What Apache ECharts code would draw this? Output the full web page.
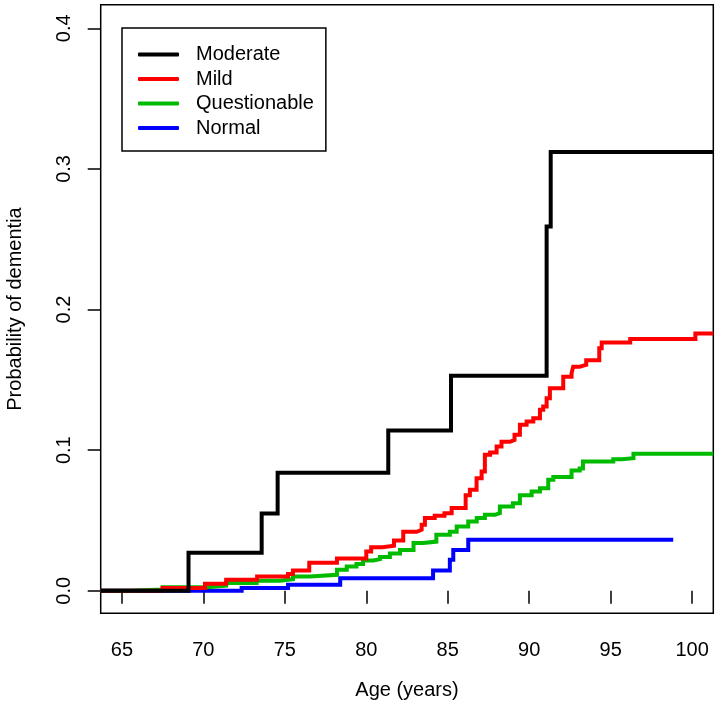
<!DOCTYPE html>
<html>
<head>
<meta charset="utf-8">
<script src="https://cdn.jsdelivr.net/npm/echarts@6/dist/echarts.min.js"></script>
<style>html,body{margin:0;padding:0;background:#fff}#c{width:720px;height:706px}</style>
</head>
<body>
<div id="c"></div>
<script>
// ---- data ----
const seriesNames = ['Moderate', 'Mild', 'Questionable', 'Normal'];

const moderateAge  = [63.7, 69.09, 73.58, 74.56, 81.35, 85.2, 91.07, 91.32, 101.3];
const moderateProb = [0, 0.027, 0.055, 0.084, 0.114, 0.153, 0.259, 0.312, 0.312];

const mildAge  = [63.7, 67.5, 70.1, 71.4, 73.3, 75.2, 75.5, 76.5, 78.2, 80.0, 80.3, 81.0, 81.7, 82.27, 83.1, 83.4, 83.6, 84.2, 84.8, 85.24, 86.1, 86.36, 86.77, 87.08, 87.28, 87.6, 88.0, 88.3, 88.82, 89.1, 89.43, 89.84, 90.25, 90.66, 90.86, 91.07, 91.27, 92.09, 92.6, 92.7, 93.1, 93.5, 94.3, 94.45, 96.2, 100.2, 101.3];
const mildProb = [0, 0.002, 0.005, 0.0078, 0.0102, 0.012, 0.0145, 0.02, 0.023, 0.028, 0.031, 0.032, 0.0358, 0.042, 0.0434, 0.047, 0.0517, 0.0533, 0.0552, 0.0588, 0.068, 0.0718, 0.080, 0.0848, 0.0967, 0.0983, 0.1026, 0.106, 0.1073, 0.111, 0.118, 0.1204, 0.1227, 0.1287, 0.131, 0.137, 0.144, 0.1523, 0.1547, 0.1594, 0.1607, 0.164, 0.1725, 0.1765, 0.179, 0.183, 0.183];

const questionableAge  = [63.7, 65.5, 67.5, 70.2, 71.4, 73.27, 74.7, 75.5, 76.54, 78.2, 78.8, 79.4, 79.8, 80.43, 80.84, 81.45, 82.07, 82.9, 83.5, 84.3, 85.13, 85.55, 86.26, 86.78, 87.28, 87.9, 88.2, 89.0, 89.43, 90.15, 90.66, 91.17, 91.48, 92.6, 93.1, 93.3, 95.16, 95.67, 96.4, 101.3];
const questionableProb = [0, 0.001, 0.0025, 0.0036, 0.0055, 0.0071, 0.0083, 0.0102, 0.0114, 0.015, 0.0173, 0.019, 0.0215, 0.0225, 0.024, 0.0265, 0.029, 0.034, 0.035, 0.0398, 0.042, 0.0457, 0.0493, 0.0517, 0.054, 0.0552, 0.06, 0.0623, 0.068, 0.0706, 0.073, 0.079, 0.081, 0.0855, 0.087, 0.092, 0.0936, 0.0943, 0.0974, 0.0974];

const normalAge  = [63.7, 72.35, 75.2, 78.4, 84.1, 85.13, 85.34, 86.26, 98.84];
const normalProb = [0, 0.002, 0.0043, 0.009, 0.0144, 0.022, 0.029, 0.0363, 0.0363];

const xTicks = [65, 70, 75, 80, 85, 90, 95, 100];
const yTicks = [0, 0.1, 0.2, 0.3, 0.4];

// ---- chart ----
const pair = (a, b) => a.map((v, i) => [v, b[i]]);
const FONT = 'Liberation Sans';
const colors = {Moderate: '#000000', Mild: '#ff0000', Questionable: '#00bb00', Normal: '#0000ff'};
const curves = [
  ['Normal', normalAge, normalProb],
  ['Questionable', questionableAge, questionableProb],
  ['Mild', mildAge, mildProb],
  ['Moderate', moderateAge, moderateProb]
];

const chart = echarts.init(document.getElementById('c'), null, {renderer: 'canvas'});
chart.setOption({
  animation: false,
  backgroundColor: '#fff',
  grid: {left: 100.7, right: 6.7, top: 4.7, bottom: 92.7, show: true, borderColor: '#000', borderWidth: 1.5,
    backgroundColor: 'transparent', containLabel: false, outerBoundsMode: 'none'},
  legend: {
    data: seriesNames,
    orient: 'vertical',
    left: 122, top: 28,
    padding: [16.5, 12, 13, 16],
    itemGap: 4.5,
    itemWidth: 41, itemHeight: 4,
    icon: 'roundRect',
    borderColor: '#000', borderWidth: 1.5, backgroundColor: '#fff',
    textStyle: {fontFamily: FONT, fontSize: 20, color: '#000', lineHeight: 20, padding: [0, 0, 0, 12]}
  },
  xAxis: {
    type: 'value', min: 63.7, max: 101.3,
    name: 'Age (years)', nameLocation: 'middle', nameGap: 67,
    nameTextStyle: {fontFamily: FONT, fontSize: 20, color: '#000'},
    axisLine: {show: false},
    splitLine: {show: false},
    axisTick: {show: true, length: 13, customValues: xTicks, lineStyle: {color: '#000', width: 1.5}},
    axisLabel: {customValues: xTicks, margin: 27, fontFamily: FONT, fontSize: 20, color: '#000'}
  },
  yAxis: {
    type: 'value', min: -0.016, max: 0.4168,
    name: 'Probability of dementia', nameLocation: 'middle', nameGap: 75, nameRotate: 90,
    nameTextStyle: {fontFamily: FONT, fontSize: 20, color: '#000'},
    axisLine: {show: false},
    splitLine: {show: false},
    axisTick: {show: true, length: 13, customValues: yTicks, lineStyle: {color: '#000', width: 1.5}},
    axisLabel: {customValues: yTicks, rotate: 90, margin: 26, fontFamily: FONT, fontSize: 20, color: '#000',
      formatter: v => v.toFixed(1)}
  },
  series: curves.map(([name, a, p]) => ({
    name, type: 'line', step: 'end', showSymbol: false, symbol: 'none',
    data: pair(a, p),
    color: colors[name],
    lineStyle: {color: colors[name], width: 4, cap: 'butt', join: 'miter'},
    clip: true
  }))
});
</script>
</body>
</html>
